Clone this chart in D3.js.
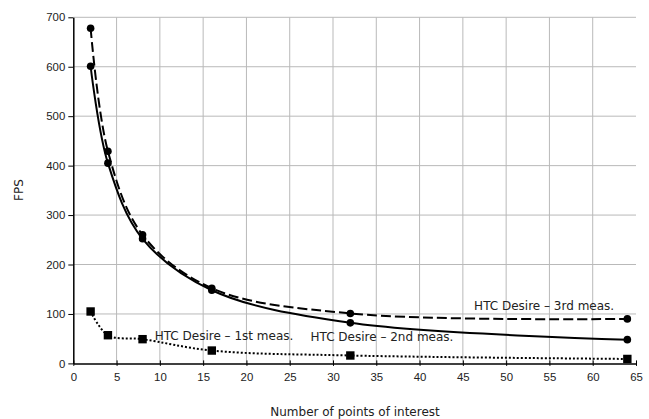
<!DOCTYPE html>
<html>
<head>
<meta charset="utf-8">
<script src="https://cdn.jsdelivr.net/npm/d3@7"></script>
<style>
  body { margin: 0; background: #fff; }
  svg { display: block; font-family: "DejaVu Sans", sans-serif; }
  .grid line { stroke: #b9b9b9; stroke-width: 1; }
  .axis path, .axis line { stroke: #000; }
  .axis text { fill: #222; font-size: 11.4px; }
  .lbl { fill: #222; font-size: 12px; }
</style>
</head>
<body>
<div id="chart"></div>
<script>
// points of interest
const poi = [2, 4, 8, 16, 32, 64];

// FPS per measurement
const meas1 = [105, 57, 49, 26, 16, 9];
const meas2 = [601, 405, 252, 148, 82, 48];
const meas3 = [678, 429, 260, 152, 101, 90];

const xTicks = [0, 5, 10, 15, 20, 25, 30, 35, 40, 45, 50, 55, 60, 65];
const yTicks = [0, 100, 200, 300, 400, 500, 600, 700];

const series = [
  { name: "HTC Desire – 1st meas.", values: meas1, dash: "2,2", marker: "square", label: [9.4, 47] },
  { name: "HTC Desire – 2nd meas.", values: meas2, dash: null, marker: "circle", label: [27.4, 46] },
  { name: "HTC Desire – 3rd meas.", values: meas3, dash: "10,4", marker: "circle", label: [46.3, 109] },
];

const width = 649, height = 419;
const svg = d3.select("#chart").append("svg")
  .attr("width", width)
  .attr("height", height);

const x = d3.scaleLinear().domain([0, 65]).range([73.3, 636]);
const y = d3.scaleLinear().domain([0, 700]).range([363.4, 17.3]);

// gridlines
const grid = svg.append("g").attr("class", "grid");
grid.selectAll(".v")
  .data(xTicks.filter((t) => t > 0 && t < 65))
  .enter()
  .append("line")
  .attr("x1", (d) => x(d))
  .attr("x2", (d) => x(d))
  .attr("y1", y(0))
  .attr("y2", y(700));
grid.selectAll(".h")
  .data(yTicks.filter((t) => t > 0))
  .enter()
  .append("line")
  .attr("x1", x(0))
  .attr("x2", x(65))
  .attr("y1", (d) => y(d))
  .attr("y2", (d) => y(d));

// axes
svg.append("g")
  .attr("class", "axis")
  .attr("transform", `translate(0,${y(0)})`)
  .call(d3.axisBottom(x).tickValues(xTicks).tickSize(2.5).tickSizeOuter(0).tickPadding(7))
  .call((g) => g.selectAll(".tick line").attr("y1", -3))
  .call((g) => g.select(".domain").attr("stroke-width", 1.5));

svg.append("g")
  .attr("class", "axis")
  .attr("transform", `translate(${x(0)},0)`)
  .call(d3.axisLeft(y).tickValues(yTicks).tickSize(5).tickSizeOuter(0).tickPadding(3))
  .call((g) => g.select(".domain").attr("stroke-width", 1.5));

// smoothed lines
const line = d3.line()
  .x((d, i) => x(poi[i]))
  .y((d) => y(d))
  .curve(d3.curveCatmullRom);

series.forEach((s) => {
  svg.append("path")
    .datum(s.values)
    .attr("fill", "none")
    .attr("stroke", "#000")
    .attr("stroke-width", 2)
    .attr("stroke-dasharray", s.dash)
    .attr("d", line);

  if (s.marker === "circle") {
    svg.append("g")
      .selectAll("circle")
      .data(s.values)
      .enter()
      .append("circle")
      .attr("cx", (d, i) => x(poi[i]))
      .attr("cy", (d) => y(d))
      .attr("r", 3.8)
      .attr("fill", "#000");
  } else {
    svg.append("g")
      .selectAll("rect")
      .data(s.values)
      .enter()
      .append("rect")
      .attr("x", (d, i) => x(poi[i]) - 4.2)
      .attr("y", (d) => y(d) - 4.2)
      .attr("width", 8.4)
      .attr("height", 8.4)
      .attr("fill", "#000");
  }

  svg.append("text")
    .attr("class", "lbl")
    .attr("x", x(s.label[0]))
    .attr("y", y(s.label[1]))
    .text(s.name);
});

// axis titles
svg.append("text")
  .attr("class", "lbl")
  .attr("font-size", 11.4)
  .attr("text-anchor", "middle")
  .attr("transform", "translate(22.5,190) rotate(-90)")
  .text("FPS");

svg.append("text")
  .attr("class", "lbl")
  .attr("text-anchor", "middle")
  .attr("x", 355)
  .attr("y", 416)
  .text("Number of points of interest");
</script>
</body>
</html>
